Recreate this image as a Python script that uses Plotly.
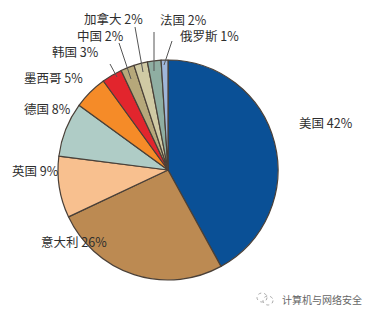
import plotly.graph_objects as go

W, H = 372, 317
OFF = 9  # page inset of the figure
categories = ["美国", "意大利", "英国", "德国", "墨西哥", "韩国", "中国", "加拿大", "法国", "俄罗斯"]
values = [42, 26, 9, 8, 5, 3, 2, 2, 2, 1]
colors = ["#0A5096", "#BC8A52", "#F8C08F", "#AFCCC6", "#F58B28", "#E2252D", "#B6A87A", "#D0CAA4", "#8FAEA2", "#9FB6DA"]

# label anchor (left px, centre-y px) per category
label_pos = [(298, 123), (40, 242), (11, 171), (23, 109), (23, 78), (51, 52), (76, 36), (83, 19), (159, 20), (179, 36)]
# leader lines in px for the small slices
leaders = {"韩国": (111, 65, 118, 78), "中国": (120, 44, 132, 80), "加拿大": (136, 28, 144, 73),
           "法国": (155, 33, 155, 72), "俄罗斯": (173, 42, 165, 66)}

def px(x): return (x - OFF) / W
def py(y): return 1 - (y - OFF) / H

fig = go.Figure(go.Pie(
    labels=categories, values=values, sort=False, direction="clockwise", rotation=0,
    textinfo="none", hoverinfo="label+percent", showlegend=False,
    marker=dict(colors=colors, line=dict(color="#4A4038", width=1.2)),
    domain=dict(x=[px(59), px(279)], y=[py(281), py(61)]),
))

annotations = []
for c, v, (x, y) in zip(categories, values, label_pos):
    annotations.append(dict(text=f"{c} {v}%", x=px(x), y=py(y), xref="paper", yref="paper",
                            xanchor="left", yanchor="middle", showarrow=False,
                            font=dict(size=12.5, color="#2E2E2E")))
annotations.append(dict(text="计算机与网络安全", x=px(281), y=py(300), xref="paper", yref="paper",
                        xanchor="left", yanchor="middle", showarrow=False,
                        font=dict(size=10, color="#666666")))

shapes = []
for (x0, y0, x1, y1) in leaders.values():
    shapes.append(dict(type="line", xref="paper", yref="paper", x0=px(x0), y0=py(y0), x1=px(x1), y1=py(y1),
                       line=dict(color="#555555", width=1)))
# watermark icon: two small dotted speech bubbles
shapes.append(dict(type="circle", xref="paper", yref="paper", x0=px(258), x1=px(268), y0=py(303), y1=py(294),
                   line=dict(color="#AAAAAA", width=1, dash="dot")))
shapes.append(dict(type="circle", xref="paper", yref="paper", x0=px(264), x1=px(274), y0=py(306), y1=py(297),
                   line=dict(color="#AAAAAA", width=1, dash="dot")))

fig.update_layout(width=W, height=H, margin=dict(l=0, r=0, t=0, b=0), paper_bgcolor="white",
                  font=dict(family="Noto Sans CJK SC, Liberation Sans, sans-serif"),
                  annotations=annotations, shapes=shapes)
fig.write_html("out.html")
